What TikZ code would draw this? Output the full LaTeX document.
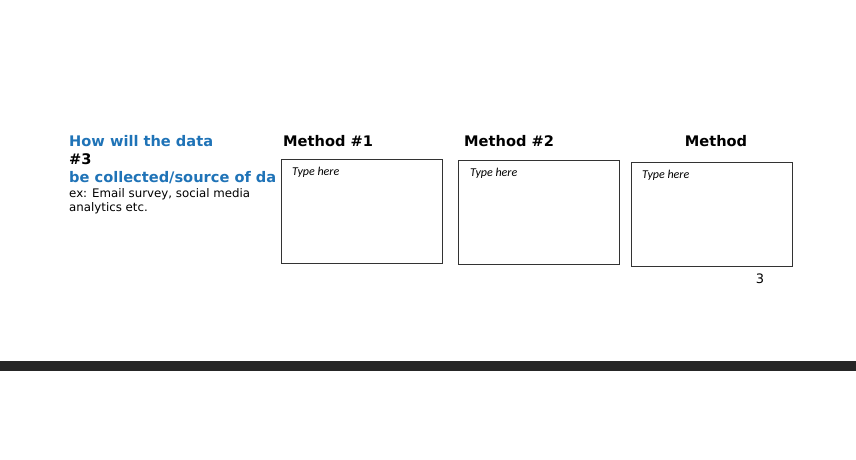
\documentclass[tikz,border=0pt]{standalone}
\usepackage{fontspec}
\setmainfont{DejaVu Sans}
\newfontfamily\boxfont{Carlito}
\definecolor{hblue}{HTML}{1F73B7}
\definecolor{barc}{HTML}{262626}
\begin{document}
\begin{tikzpicture}[x=1pt,y=-1pt,
  hd/.style={font=\bfseries\fontsize{14.6}{17}\selectfont,anchor=west,inner sep=0},
  tbox/.style={draw=black!80,line width=0.8pt},
  tt/.style={font=\boxfont\itshape\fontsize{12}{14}\selectfont,anchor=west,inner sep=0}]
\useasboundingbox (0,0) rectangle (856,460);
\fill[barc] (0,361) rectangle (856,371);
\node[hd,text=hblue] (q1) at (69,141) {How will the data};
\node[hd] (q2) at (69,159) {\#3};
\node[hd,text=hblue] (q3) at (69,178) {be collected/source of da};
\node[anchor=north west,inner sep=0,align=left,font=\fontsize{11.8}{14}\selectfont] (ex) at (69,188) {ex: Email survey, social media\\analytics etc.};
\node[hd] (m1) at (283,141) {Method \#1};
\node[hd] (m2) at (464,141) {Method \#2};
\node[hd,anchor=center] (m3) at (716,141) {Method};
\draw[tbox] (281,159) rectangle (442,263);
\draw[tbox] (458,160) rectangle (619,264);
\draw[tbox] (631,162) rectangle (792,266);
\node[tt] (t1) at (292,172) {Type here};
\node[tt] (t2) at (470,173) {Type here};
\node[tt] (t3) at (642,175) {Type here};
\node[font=\fontsize{13}{15}\selectfont] (pg) at (760,279) {3};
\end{tikzpicture}
\end{document}
